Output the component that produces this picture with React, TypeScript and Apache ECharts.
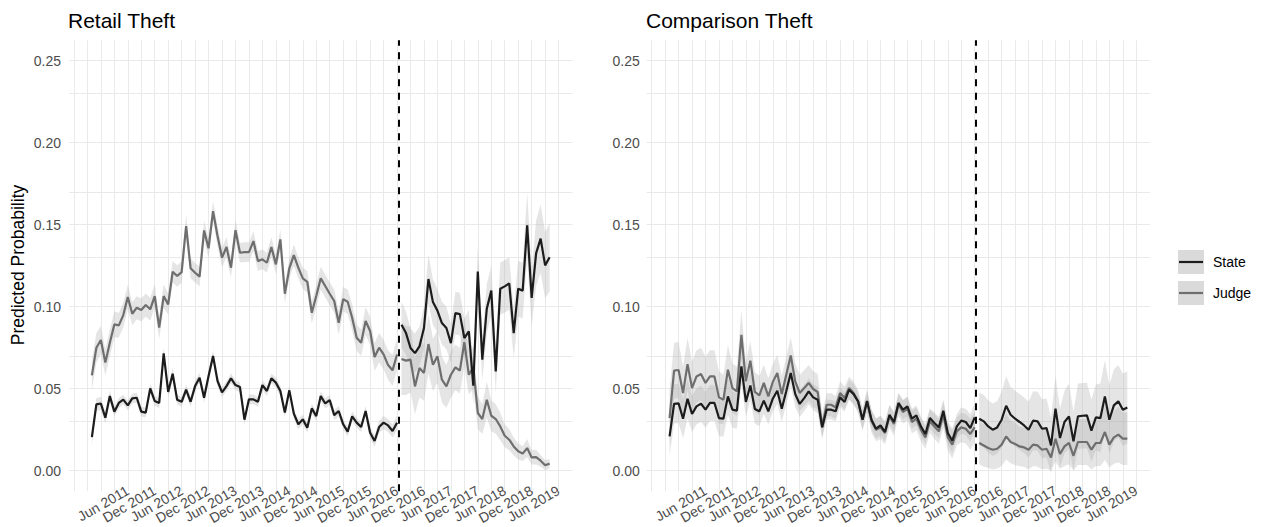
import React, { useEffect, useRef } from "react";
import * as echarts from "echarts";

// Month index 0 = Oct 2010 (first observation), last = Apr 2019 (index 102)
const tickIdx = [8, 14, 20, 26, 32, 38, 44, 50, 56, 62, 68, 74, 80, 86, 92, 98, 104];
const tickLabels = [
  "Jun 2011", "Dec 2011", "Jun 2012", "Dec 2012", "Jun 2013", "Dec 2013", "Jun 2014", "Dec 2014",
  "Jun 2015", "Dec 2015", "Jun 2016", "Dec 2016", "Jun 2017", "Dec 2017", "Jun 2018", "Dec 2018", "Jun 2019",
];
const yTicks = [0, 0.05, 0.1, 0.15, 0.2, 0.25];
const cutoff = 68.3; // policy change (between Jun and Jul 2016)
const POST_START = 69;

const panelTitles = ["Retail Theft", "Comparison Theft"];
const seriesNames = ["State", "Judge"];

// ---------- Retail Theft ----------
const retailStatePre = [
  0.0205, 0.0404, 0.041, 0.0323, 0.0455, 0.036, 0.0413, 0.0433, 0.0398, 0.0441,
  0.0445, 0.036, 0.0354, 0.0502, 0.0425, 0.0413, 0.0715, 0.048, 0.0591, 0.0433,
  0.042, 0.0494, 0.042, 0.0516, 0.0567, 0.0445, 0.0577, 0.0699, 0.0547, 0.0478,
  0.0516, 0.0563, 0.0522, 0.051, 0.0311, 0.0435, 0.0435, 0.042, 0.0522, 0.0486,
  0.0563, 0.0537, 0.0486, 0.0354, 0.049, 0.0348, 0.0283, 0.0313, 0.0262, 0.038,
  0.0333, 0.0455, 0.041, 0.0431, 0.0339, 0.0364, 0.0283, 0.0238, 0.0331, 0.0293,
  0.0266, 0.0364, 0.0232, 0.0181, 0.0266, 0.0293, 0.0276, 0.0242, 0.0293,
];
const retailStatePost = [
  0.089, 0.0839, 0.0748, 0.0717, 0.0758, 0.087, 0.1169, 0.1028, 0.0976, 0.09,
  0.087, 0.0778, 0.0961, 0.0955, 0.0809, 0.085, 0.0518, 0.1215, 0.0677, 0.0988,
  0.1098, 0.0606, 0.111, 0.1124, 0.1142, 0.0839, 0.111, 0.1098, 0.1496, 0.1053,
  0.1327, 0.1415, 0.1252, 0.1301,
];
const retailJudgePre = [
  0.0581, 0.075, 0.0797, 0.0659, 0.078, 0.0892, 0.0886, 0.0949, 0.1059, 0.0957,
  0.0994, 0.098, 0.101, 0.0984, 0.1065, 0.0872, 0.1065, 0.1014, 0.1213, 0.1187,
  0.1211, 0.1492, 0.1234, 0.1207, 0.1183, 0.1465, 0.1356, 0.1583, 0.1431, 0.1299,
  0.1364, 0.1238, 0.1467, 0.1329, 0.1333, 0.1333, 0.14, 0.1278, 0.1289, 0.1268,
  0.1364, 0.1258, 0.141, 0.1079, 0.1234, 0.1315, 0.1238, 0.1173, 0.1152, 0.0963,
  0.1065, 0.1173, 0.1126, 0.1079, 0.1035, 0.0902, 0.1045, 0.103, 0.0933, 0.0811,
  0.078, 0.0913, 0.0852, 0.0693, 0.075, 0.0709, 0.0644, 0.0612, 0.0709,
];
const retailJudgePost = [
  0.0681, 0.0671, 0.0677, 0.0514, 0.0626, 0.0596, 0.0772, 0.0646, 0.0697, 0.0555,
  0.0514, 0.0585, 0.063, 0.061, 0.0783, 0.0585, 0.063, 0.0352, 0.0315, 0.0433,
  0.0335, 0.0315, 0.027, 0.0213, 0.0189, 0.0148, 0.0118, 0.0104, 0.0138, 0.0081,
  0.0083, 0.0061, 0.0033, 0.0043,
];
// confidence-band half widths
const retailStatePreHw = [
  0.005, 0.004, 0.004, 0.0035, 0.0035, 0.003, 0.003, 0.003, 0.003, 0.003,
  0.003, 0.003, 0.003, 0.003, 0.003, 0.003, 0.0035, 0.003, 0.0035, 0.003,
  0.003, 0.003, 0.003, 0.003, 0.003, 0.003, 0.003, 0.0035, 0.003, 0.003,
  0.003, 0.003, 0.003, 0.003, 0.003, 0.003, 0.003, 0.003, 0.003, 0.003,
  0.003, 0.003, 0.003, 0.003, 0.003, 0.003, 0.003, 0.003, 0.003, 0.003,
  0.003, 0.003, 0.003, 0.003, 0.003, 0.003, 0.003, 0.003, 0.003, 0.003,
  0.003, 0.003, 0.0035, 0.0035, 0.0035, 0.004, 0.004, 0.004, 0.0045,
];
const retailStatePostHw = [
  0.014, 0.013, 0.012, 0.012, 0.012, 0.013, 0.015, 0.014, 0.013, 0.013,
  0.013, 0.012, 0.013, 0.013, 0.012, 0.013, 0.012, 0.016, 0.013, 0.015,
  0.015, 0.013, 0.016, 0.016, 0.016, 0.015, 0.017, 0.017, 0.02, 0.017,
  0.02, 0.021, 0.02, 0.021,
];
const retailJudgePreHw = [
  0.009, 0.009, 0.0085, 0.008, 0.008, 0.008, 0.0075, 0.0075, 0.0075, 0.007,
  0.007, 0.007, 0.007, 0.007, 0.007, 0.007, 0.007, 0.0065, 0.0065, 0.0065,
  0.0065, 0.0065, 0.006, 0.006, 0.006, 0.006, 0.006, 0.006, 0.006, 0.006,
  0.006, 0.006, 0.006, 0.006, 0.006, 0.006, 0.006, 0.006, 0.006, 0.006,
  0.006, 0.006, 0.006, 0.006, 0.006, 0.0065, 0.0065, 0.0065, 0.0065, 0.0065,
  0.007, 0.007, 0.007, 0.007, 0.007, 0.0075, 0.0075, 0.0075, 0.008, 0.008,
  0.008, 0.0085, 0.0085, 0.0085, 0.009, 0.009, 0.009, 0.0095, 0.0095,
];
const retailJudgePostHw = [
  0.022, 0.021, 0.02, 0.017, 0.018, 0.017, 0.018, 0.016, 0.016, 0.014,
  0.013, 0.014, 0.014, 0.014, 0.015, 0.012, 0.013, 0.01, 0.009, 0.011,
  0.0095, 0.009, 0.0085, 0.007, 0.0065, 0.0055, 0.005, 0.0045, 0.0055, 0.0045,
  0.0045, 0.0035, 0.003, 0.003,
];

// ---------- Comparison Theft ----------
const compStatePre = [
  0.0209, 0.0407, 0.0411, 0.0317, 0.0439, 0.0346, 0.0392, 0.0409, 0.0372, 0.0413,
  0.0413, 0.0321, 0.0317, 0.0453, 0.0372, 0.0366, 0.0636, 0.0419, 0.052, 0.0376,
  0.0362, 0.0427, 0.0362, 0.0439, 0.0488, 0.0378, 0.0484, 0.0596, 0.0467, 0.0407,
  0.0443, 0.0484, 0.0447, 0.0433, 0.0264, 0.0372, 0.0372, 0.0362, 0.0447, 0.0419,
  0.0494, 0.0467, 0.0423, 0.0311, 0.0423, 0.0311, 0.0256, 0.0276, 0.0236, 0.0341,
  0.0297, 0.0413, 0.0372, 0.0392, 0.0317, 0.0337, 0.027, 0.0224, 0.0321, 0.0291,
  0.0264, 0.0366, 0.023, 0.0183, 0.027, 0.0305, 0.0297, 0.026, 0.0325,
];
const compStatePost = [
  0.0317, 0.0301, 0.027, 0.025, 0.0264, 0.0311, 0.0396, 0.0341, 0.0317, 0.0297,
  0.0276, 0.025, 0.0305, 0.0301, 0.0256, 0.026, 0.0154, 0.0378, 0.0199, 0.0297,
  0.0331, 0.0179, 0.0331, 0.0335, 0.0337, 0.0244, 0.0325, 0.0321, 0.0453, 0.0311,
  0.0398, 0.0423, 0.0372, 0.0386,
];
const compJudgePre = [
  0.0321, 0.061, 0.0614, 0.0474, 0.065, 0.0504, 0.0575, 0.0589, 0.0535, 0.0575,
  0.0575, 0.0447, 0.0433, 0.0616, 0.0504, 0.0484, 0.0829, 0.0545, 0.0671, 0.048,
  0.0459, 0.0535, 0.0453, 0.0541, 0.0596, 0.0467, 0.0585, 0.0703, 0.0545, 0.0474,
  0.0504, 0.0535, 0.0498, 0.048, 0.027, 0.0402, 0.0402, 0.0386, 0.0474, 0.0443,
  0.0504, 0.0474, 0.0423, 0.0311, 0.0427, 0.0301, 0.025, 0.0264, 0.023, 0.0331,
  0.0285, 0.0402, 0.0358, 0.0378, 0.0297, 0.0317, 0.025, 0.0203, 0.0301, 0.027,
  0.024, 0.0341, 0.0203, 0.0159, 0.024, 0.0264, 0.0256, 0.0224, 0.0264,
];
const compJudgePost = [
  0.0169, 0.0154, 0.0138, 0.0128, 0.0134, 0.0159, 0.0209, 0.0175, 0.0163, 0.0148,
  0.0142, 0.0128, 0.0159, 0.0154, 0.0128, 0.0134, 0.0081, 0.0195, 0.0102, 0.0148,
  0.0169, 0.0091, 0.0175, 0.0175, 0.0175, 0.0128, 0.0169, 0.0169, 0.0236, 0.0159,
  0.0203, 0.022, 0.0195, 0.0195,
];
const compStatePreHw = [
  0.012, 0.012, 0.012, 0.012, 0.012, 0.011, 0.011, 0.011, 0.011, 0.011,
  0.011, 0.011, 0.011, 0.011, 0.011, 0.011, 0.011, 0.009, 0.009, 0.009,
  0.009, 0.008, 0.008, 0.008, 0.008, 0.008, 0.008, 0.008, 0.008, 0.008,
  0.008, 0.008, 0.008, 0.008, 0.006, 0.006, 0.006, 0.006, 0.006, 0.006,
  0.006, 0.006, 0.006, 0.006, 0.006, 0.006, 0.006, 0.006, 0.006, 0.006,
  0.006, 0.006, 0.006, 0.006, 0.006, 0.006, 0.006, 0.006, 0.006, 0.0065,
  0.0065, 0.007, 0.007, 0.0075, 0.0075, 0.008, 0.008, 0.0085, 0.0085,
];
const compStatePostHw = [
  0.016, 0.016, 0.016, 0.016, 0.016, 0.017, 0.018, 0.017, 0.017, 0.017,
  0.017, 0.017, 0.018, 0.018, 0.018, 0.018, 0.017, 0.02, 0.018, 0.019,
  0.02, 0.018, 0.02, 0.02, 0.02, 0.019, 0.02, 0.021, 0.022, 0.021,
  0.022, 0.022, 0.022, 0.022,
];
const compJudgePreHw = [
  0.017, 0.017, 0.017, 0.016, 0.016, 0.016, 0.016, 0.016, 0.016, 0.016,
  0.016, 0.016, 0.015, 0.015, 0.015, 0.015, 0.015, 0.012, 0.012, 0.012,
  0.012, 0.011, 0.011, 0.011, 0.011, 0.011, 0.011, 0.011, 0.011, 0.011,
  0.011, 0.011, 0.011, 0.011, 0.008, 0.007, 0.007, 0.007, 0.007, 0.007,
  0.007, 0.007, 0.007, 0.007, 0.007, 0.007, 0.007, 0.007, 0.007, 0.007,
  0.007, 0.007, 0.007, 0.007, 0.007, 0.007, 0.007, 0.007, 0.007, 0.0075,
  0.0075, 0.008, 0.008, 0.0085, 0.0085, 0.009, 0.009, 0.0095, 0.0095,
];
const compJudgePostHw = [
  0.013, 0.013, 0.012, 0.012, 0.012, 0.013, 0.014, 0.013, 0.013, 0.012,
  0.012, 0.012, 0.013, 0.013, 0.012, 0.012, 0.008, 0.014, 0.009, 0.012,
  0.013, 0.009, 0.014, 0.014, 0.014, 0.012, 0.014, 0.014, 0.017, 0.014,
  0.016, 0.017, 0.016, 0.016,
];

// ---------- styling ----------
const FONT = '"Liberation Sans", Arial, Helvetica, sans-serif';
const STATE_COLOR = "#1c1c1c";
const JUDGE_COLOR = "#6e6e6e";
const BAND_FILL = "rgba(176,176,176,0.33)";
const GRID_COLOR = "#e9e9e9";
const AXIS_TEXT = "#4d4d4d";
const X_MIN = -5.1;
const X_MAX = 107.1;
const Y_MIN = -0.0125;
const Y_MAX = 0.2625;
// blank guard labels at both ends keep ECharts from hiding the 2nd / 2nd-to-last labels
const LABEL_GUARDS = [-5, 107];

const vGrid = Array.from({ length: 37 }, (_, i) => -4 + 3 * i);
const hGrid = Array.from({ length: 11 }, (_, i) => Math.round(i * 25) / 1000);

const grids = [
  { left: 69, top: 40.2, width: 503.5, height: 451 },
  { left: 646.7, top: 40.2, width: 503.5, height: 451 },
];

type Panel = {
  statePre: number[]; statePost: number[]; judgePre: number[]; judgePost: number[];
  statePreHw: number[]; statePostHw: number[]; judgePreHw: number[]; judgePostHw: number[];
};
const panels: Panel[] = [
  {
    statePre: retailStatePre, statePost: retailStatePost, judgePre: retailJudgePre, judgePost: retailJudgePost,
    statePreHw: retailStatePreHw, statePostHw: retailStatePostHw, judgePreHw: retailJudgePreHw, judgePostHw: retailJudgePostHw,
  },
  {
    statePre: compStatePre, statePost: compStatePost, judgePre: compJudgePre, judgePost: compJudgePost,
    statePreHw: compStatePreHw, statePostHw: compStatePostHw, judgePreHw: compJudgePreHw, judgePostHw: compJudgePostHw,
  },
];

// confidence ribbon drawn as one polygon through the axis scales
function bandSeries(gi: number, start: number, vals: number[], hw: number[]) {
  const n = vals.length;
  return {
    type: "custom", xAxisIndex: gi, yAxisIndex: gi, silent: true, z: 2,
    data: vals.map((v, i) => [start + i, v - hw[i], v + hw[i]]),
    encode: { x: 0, y: [1, 2] },
    renderItem: (params: any, api: any) => {
      if (params.dataIndex !== 0) return null;
      const pts: number[][] = [];
      for (let i = 0; i < n; i++) pts.push(api.coord([api.value(0, i), api.value(2, i)]));
      for (let i = n - 1; i >= 0; i--) pts.push(api.coord([api.value(0, i), api.value(1, i)]));
      return { type: "polygon", shape: { points: pts }, style: { fill: BAND_FILL } };
    },
  };
}

function lineSeries(gi: number, start: number, vals: number[], color: string, name: string) {
  return {
    type: "line", name, xAxisIndex: gi, yAxisIndex: gi, symbol: "none", silent: true,
    emphasis: { disabled: true }, z: 3,
    lineStyle: { color, width: 2.2 },
    data: vals.map((v, i) => [start + i, v]),
  };
}

function buildOption() {
  const series: any[] = [];
  panels.forEach((p, gi) => {
    series.push({
      type: "line", xAxisIndex: gi, yAxisIndex: gi, data: [], symbol: "none", silent: true,
      markLine: {
        silent: true, z: 1, animation: false, symbol: ["none", "none"], label: { show: false },
        emphasis: { disabled: true },
        lineStyle: { color: GRID_COLOR, width: 1, type: "solid" },
        data: [...vGrid.map((v) => ({ xAxis: v })), ...hGrid.map((v) => ({ yAxis: v }))],
      },
    });
    series.push(bandSeries(gi, 0, p.statePre, p.statePreHw));
    series.push(bandSeries(gi, POST_START, p.statePost, p.statePostHw));
    series.push(bandSeries(gi, 0, p.judgePre, p.judgePreHw));
    series.push(bandSeries(gi, POST_START, p.judgePost, p.judgePostHw));
    series.push(lineSeries(gi, 0, p.judgePre, JUDGE_COLOR, seriesNames[1]));
    series.push(lineSeries(gi, POST_START, p.judgePost, JUDGE_COLOR, seriesNames[1]));
    series.push(lineSeries(gi, 0, p.statePre, STATE_COLOR, seriesNames[0]));
    series.push(lineSeries(gi, POST_START, p.statePost, STATE_COLOR, seriesNames[0]));
    series.push({
      type: "line", xAxisIndex: gi, yAxisIndex: gi, data: [], symbol: "none", silent: true,
      markLine: {
        silent: true, z: 6, animation: false, symbol: ["none", "none"], label: { show: false },
        emphasis: { disabled: true },
        lineStyle: { color: "#000", width: 2, type: [7, 6.5] },
        data: [{ xAxis: cutoff }],
      },
    });
  });

  const labelFor = (v: number) => {
    const i = tickIdx.findIndex((t) => Math.abs(t - v) < 0.01);
    return i >= 0 ? tickLabels[i] : "";
  };

  return {
    animation: false,
    backgroundColor: "#ffffff",
    textStyle: { fontFamily: FONT },
    title: panelTitles.map((t, i) => ({
      text: t, left: i === 0 ? 68 : 646, top: 10, padding: 0,
      textStyle: { fontSize: 21, fontWeight: "normal", color: "#000", fontFamily: FONT },
    })),
    grid: grids,
    xAxis: grids.map((_, gi) => ({
      type: "value", gridIndex: gi, min: X_MIN, max: X_MAX,
      axisLine: { show: false }, axisTick: { show: false }, splitLine: { show: false },
      axisLabel: {
        customValues: [LABEL_GUARDS[0], ...tickIdx, LABEL_GUARDS[1]],
        formatter: (v: number) => labelFor(v),
        hideOverlap: false,
        rotate: 30, margin: -2, color: AXIS_TEXT, fontSize: 14, fontFamily: FONT,
      },
    })),
    yAxis: grids.map((_, gi) => ({
      type: "value", gridIndex: gi, min: Y_MIN, max: Y_MAX,
      axisLine: { show: false }, axisTick: { show: false }, splitLine: { show: false },
      axisLabel: {
        customValues: yTicks,
        formatter: (v: number) => v.toFixed(2),
        margin: gi === 0 ? 8 : 7, color: AXIS_TEXT, fontSize: 14, fontFamily: FONT,
      },
    })),
    graphic: [
      {
        type: "text", x: 18, y: 265, rotation: Math.PI / 2, silent: true,
        style: {
          text: "Predicted Probability", fontSize: 17.5, fontFamily: FONT, fill: "#000",
          align: "center", verticalAlign: "middle",
        },
      },
      { type: "rect", silent: true, shape: { x: 1178, y: 250, width: 26, height: 24 }, style: { fill: "#dadada" } },
      { type: "line", silent: true, shape: { x1: 1179, y1: 262, x2: 1203, y2: 262 }, style: { stroke: STATE_COLOR, lineWidth: 2.2 } },
      {
        type: "text", x: 1213, y: 262, silent: true,
        style: { text: seriesNames[0], fontSize: 14, fontFamily: FONT, fill: "#000", verticalAlign: "middle" },
      },
      { type: "rect", silent: true, shape: { x: 1178, y: 281, width: 26, height: 24 }, style: { fill: "#dadada" } },
      { type: "line", silent: true, shape: { x1: 1179, y1: 293, x2: 1203, y2: 293 }, style: { stroke: JUDGE_COLOR, lineWidth: 2.2 } },
      {
        type: "text", x: 1213, y: 293, silent: true,
        style: { text: seriesNames[1], fontSize: 14, fontFamily: FONT, fill: "#000", verticalAlign: "middle" },
      },
    ],
    series,
  };
}

export default function App() {
  const ref = useRef<HTMLDivElement>(null);
  useEffect(() => {
    document.body.style.margin = "0";
    const chart = echarts.init(ref.current as HTMLDivElement, null, { renderer: "svg" });
    chart.setOption(buildOption() as any);
    return () => chart.dispose();
  }, []);
  return (
    <div
      ref={ref}
      style={{ position: "absolute", left: 0, top: 0, width: 1266, height: 527, background: "#fff" }}
    />
  );
}
